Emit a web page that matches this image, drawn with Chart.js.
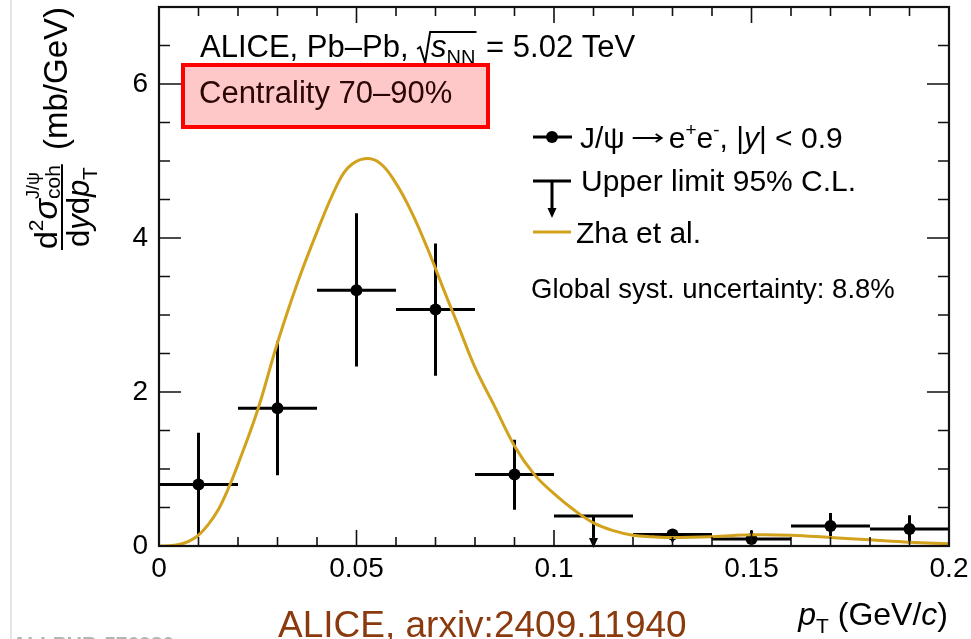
<!DOCTYPE html>
<html>
<head>
<meta charset="utf-8">
<script src="https://cdn.jsdelivr.net/npm/chart.js@4.4.1/dist/chart.umd.min.js"></script>
<style>
 html,body{margin:0;padding:0;background:#fff;}
 canvas{display:block;}
</style>
</head>
<body>
<canvas id="chart" width="971" height="639"></canvas>
<script>
// coherent J/psi pT spectrum, Pb-Pb 70-90%

const FONT = "'Liberation Sans', Arial, sans-serif";
const GOLD = '#d2a21c';

// measured bins (centres), errors down / up
const ptX   = [0.01, 0.03, 0.05, 0.07, 0.09, 0.13, 0.15, 0.17, 0.19];
const ptY   = [0.80, 1.79, 3.32, 3.07, 0.93, 0.15, 0.09, 0.26, 0.22];
const errLo = [0.66, 0.87, 0.99, 0.86, 0.46, 0.09, 0.05, 0.15, 0.16];
const errHi = [0.67, 0.87, 1.00, 0.86, 0.45, 0.07, 0.11, 0.17, 0.18];
const binHalf = 0.01;

// upper limit bin
const ulX = [0.11];
const ulY = [0.39];

// Zha et al.
const modelX = [0, 0.0025, 0.005, 0.0075, 0.01, 0.0125, 0.015, 0.0175, 0.02, 0.025, 0.03,
  0.035, 0.04, 0.045, 0.048, 0.052, 0.056, 0.06, 0.064, 0.068, 0.072, 0.076, 0.08, 0.085,
  0.09, 0.095, 0.1, 0.105, 0.11, 0.115, 0.12, 0.125, 0.13, 0.14, 0.15, 0.16, 0.17, 0.18,
  0.19, 0.2];
const modelY = [0, 0.003, 0.02, 0.06, 0.14, 0.28, 0.47, 0.74, 1.06, 1.77, 2.64,
  3.41, 4.08, 4.68, 4.92, 5.03, 4.97, 4.71, 4.33, 3.86, 3.34, 2.83, 2.32, 1.81,
  1.30, 0.93, 0.68, 0.47, 0.30, 0.20, 0.14, 0.12, 0.11, 0.12, 0.145, 0.14, 0.11, 0.08,
  0.05, 0.03];

const xTickVals = [0, 0.05, 0.1, 0.15, 0.2];
const xTickLabels = ['0', '0.05', '0.1', '0.15', '0.2'];
const yTickVals = [0, 2, 4, 6];
const yTickLabels = ['0', '2', '4', '6'];

function setFont(ctx, p){ ctx.font = (p[2] || '') + ' ' + p[1] + 'px ' + FONT; }
function runsWidth(ctx, parts){
  let w = 0;
  parts.forEach(p => { setFont(ctx, p); w += ctx.measureText(p[0]).width; });
  return w;
}
// parts: [text, size, style, dy]
function drawRuns(ctx, x, y, parts){
  let cx = x;
  parts.forEach(p => {
    setFont(ctx, p);
    ctx.fillText(p[0], cx, y + (p[3] || 0));
    cx += ctx.measureText(p[0]).width;
  });
  return cx;
}

// frame with inward ticks on all four sides
const frame = {
  id: 'frame',
  afterDatasetsDraw(c){
    const ctx = c.ctx, a = c.chartArea, xs = c.scales.x, ys = c.scales.y;
    ctx.save();
    ctx.strokeStyle = '#111';
    ctx.lineWidth = 1.6;
    ctx.beginPath();
    for (let i = 0; i <= 20; i++){
      const px = xs.getPixelForValue(i * 0.01), L = i % 5 === 0 ? 16 : 9;
      ctx.moveTo(px, a.bottom); ctx.lineTo(px, a.bottom - L);
      ctx.moveTo(px, a.top); ctx.lineTo(px, a.top + L);
    }
    for (let i = 0; i <= 14; i++){
      const py = ys.getPixelForValue(i * 0.5), L = i % 4 === 0 ? 22 : 11;
      ctx.moveTo(a.left, py); ctx.lineTo(a.left + L, py);
      ctx.moveTo(a.right, py); ctx.lineTo(a.right - L, py);
    }
    ctx.stroke();
    ctx.lineWidth = 2.2;
    ctx.strokeRect(a.left, a.top, a.right - a.left, a.bottom - a.top);
    ctx.restore();
  }
};

function arrowDown(ctx, x, tipY){
  ctx.beginPath();
  ctx.moveTo(x, tipY);
  ctx.lineTo(x - 4.5, tipY - 10);
  ctx.lineTo(x + 4.5, tipY - 10);
  ctx.closePath();
  ctx.fill();
}

// x/y error bars and the upper-limit marker
const errBars = {
  id: 'errBars',
  beforeDatasetsDraw(c){
    const ctx = c.ctx, xs = c.scales.x, ys = c.scales.y;
    ctx.save();
    ctx.strokeStyle = '#000';
    ctx.fillStyle = '#000';
    ctx.lineWidth = 3;
    ctx.beginPath();
    ptX.forEach((x, i) => {
      const py = ys.getPixelForValue(ptY[i]), px = xs.getPixelForValue(x);
      ctx.moveTo(xs.getPixelForValue(x - binHalf), py);
      ctx.lineTo(xs.getPixelForValue(x + binHalf), py);
      ctx.moveTo(px, ys.getPixelForValue(ptY[i] - errLo[i]));
      ctx.lineTo(px, ys.getPixelForValue(ptY[i] + errHi[i]));
    });
    ulX.forEach((x, i) => {
      const py = ys.getPixelForValue(ulY[i]), px = xs.getPixelForValue(x);
      ctx.moveTo(xs.getPixelForValue(x - binHalf), py);
      ctx.lineTo(xs.getPixelForValue(x + binHalf), py);
      ctx.moveTo(px, py);
      ctx.lineTo(px, ys.getPixelForValue(0) - 6);
    });
    ctx.stroke();
    ulX.forEach(x => arrowDown(ctx, xs.getPixelForValue(x), ys.getPixelForValue(0) + 2));
    ctx.restore();
  }
};

// labels, legend and axis titles
const texts = {
  id: 'texts',
  afterDraw(c){
    const ctx = c.ctx;
    ctx.save();
    ctx.textBaseline = 'alphabetic';
    ctx.textAlign = 'left';

    // page edge line
    ctx.strokeStyle = '#dcdcdc';
    ctx.lineWidth = 1.5;
    ctx.beginPath(); ctx.moveTo(11, 0); ctx.lineTo(11, 639); ctx.stroke();

    // collision system
    ctx.fillStyle = '#000';
    let x = drawRuns(ctx, 200, 57, [['ALICE, Pb\u2013Pb, ', 31]]);
    ctx.strokeStyle = '#000';
    ctx.lineWidth = 2;
    const rootStart = x;
    x = drawRuns(ctx, x + 14, 57, [['s', 31, 'italic'], ['NN', 20, '', 7]]);
    ctx.beginPath();
    ctx.moveTo(rootStart, 49); ctx.lineTo(rootStart + 3, 47);
    ctx.lineTo(rootStart + 8, 63); ctx.lineTo(rootStart + 13, 32);
    ctx.lineTo(x + 1, 32);
    ctx.stroke();
    drawRuns(ctx, x + 2, 57, [[' = 5.02 TeV', 31]]);

    // centrality box
    ctx.fillStyle = '#ffc8c8';
    ctx.fillRect(183, 65, 305, 62);
    ctx.strokeStyle = '#ff0000';
    ctx.lineWidth = 4;
    ctx.strokeRect(183, 65, 305, 62);
    ctx.fillStyle = '#2a0606';
    drawRuns(ctx, 199, 103, [['Centrality 70\u201390%', 31]]);

    // legend
    ctx.fillStyle = '#000';
    ctx.strokeStyle = '#000';
    ctx.lineWidth = 3;
    ctx.beginPath();
    ctx.moveTo(533, 137); ctx.lineTo(572, 137);
    ctx.moveTo(533, 181); ctx.lineTo(571, 181);
    ctx.moveTo(552, 181); ctx.lineTo(552, 210);
    ctx.stroke();
    ctx.beginPath(); ctx.arc(552, 137, 6, 0, Math.PI * 2); ctx.fill();
    arrowDown(ctx, 552, 218);
    ctx.strokeStyle = GOLD;
    ctx.beginPath(); ctx.moveTo(533, 232); ctx.lineTo(571, 232); ctx.stroke();

    ctx.fillStyle = '#000';
    const jx = drawRuns(ctx, 580, 148, [['J/\u03c8', 30]]);
    // reaction arrow
    ctx.strokeStyle = '#000';
    ctx.lineWidth = 1.8;
    ctx.beginPath();
    ctx.moveTo(jx + 8, 138); ctx.lineTo(jx + 37, 138);
    ctx.moveTo(jx + 31, 134); ctx.lineTo(jx + 37, 138); ctx.lineTo(jx + 31, 142);
    ctx.stroke();
    drawRuns(ctx, jx + 44, 148, [['e', 30], ['+', 19, '', -12], ['e', 30], ['-', 19, '', -12],
      [', |', 30], ['y', 30, 'italic'], ['| < 0.9', 30]]);
    drawRuns(ctx, 581, 191, [['Upper limit 95% C.L.', 30]]);
    drawRuns(ctx, 576, 243, [['Zha et al.', 30]]);
    drawRuns(ctx, 531, 298, [['Global syst. uncertainty: 8.8%', 27.5]]);

    // x title
    const xt = [['p', 32, 'italic'], ['T', 21, '', 8], [' (GeV/', 32], ['c', 32, 'italic'], [')', 32]];
    drawRuns(ctx, 948 - runsWidth(ctx, xt), 625, xt);

    // y title, rotated fraction
    ctx.translate(62, 546);
    ctx.rotate(-Math.PI / 2);
    const numA = [['d', 32], ['2', 21, '', -14], ['\u03c3', 34, 'italic']];
    const sup = [['J/\u03c8', 18, '', -18]];
    const sub = [['coh', 21, '', 3]];
    const numW = runsWidth(ctx, numA) + Math.max(runsWidth(ctx, sup), runsWidth(ctx, sub));
    const den = [['d', 31], ['y', 31, 'italic'], ['d', 31], ['p', 31, 'italic'], ['T', 21, '', 8]];
    const denW = runsWidth(ctx, den);
    const u0 = 296, barW = Math.max(numW, denW) + 2;
    ctx.strokeStyle = '#000';
    ctx.lineWidth = 2;
    ctx.beginPath(); ctx.moveTo(u0, 0); ctx.lineTo(u0 + barW, 0); ctx.stroke();
    const nx = drawRuns(ctx, u0 + (barW - numW) / 2, -5, numA);
    drawRuns(ctx, nx, -5, sup);
    drawRuns(ctx, nx, -5, sub);
    drawRuns(ctx, u0 + (barW - denW) / 2, 27, den);
    const unit = [['(mb/GeV)', 33]];
    drawRuns(ctx, 539 - runsWidth(ctx, unit), 5, unit);
    ctx.restore();

    // footer labels
    ctx.save();
    ctx.fillStyle = '#8b3a0e';
    drawRuns(ctx, 278, 637, [['ALICE, arxiv:2409.11940', 37]]);
    ctx.fillStyle = '#b4b4b4';
    drawRuns(ctx, 12, 651, [['ALI-PUB-576980', 21, 'bold']]);
    ctx.restore();
  }
};

new Chart(document.getElementById('chart'), {
  type: 'scatter',
  data: {
    datasets: [
      { label: 'Zha et al.', data: modelX.map((x, i) => ({ x: x, y: modelY[i] })),
        showLine: true, borderColor: GOLD, borderWidth: 3, pointRadius: 0,
        tension: 0.4, order: 0 },
      { label: 'J/psi', data: ptX.map((x, i) => ({ x: x, y: ptY[i] })),
        pointRadius: 6, backgroundColor: '#000', borderColor: '#000', borderWidth: 0, order: 1 },
      { label: 'upper limit', data: ulX.map((x, i) => ({ x: x, y: ulY[i] })),
        pointRadius: 0, order: 2 }
    ]
  },
  options: {
    responsive: false,
    animation: false,
    devicePixelRatio: 1,
    events: [],
    layout: { padding: { left: 99, right: 22, top: 7, bottom: 43 } },
    plugins: { legend: { display: false }, tooltip: { enabled: false } },
    scales: {
      x: {
        type: 'linear', min: 0, max: 0.2,
        grid: { display: false, drawTicks: false },
        border: { display: false },
        afterBuildTicks: s => { s.ticks = xTickVals.map(v => ({ value: v })); },
        afterFit: s => { s.height = 50; s.paddingLeft = 0; s.paddingRight = 0; },
        ticks: { callback: (v, i) => xTickLabels[i], font: { size: 28, family: FONT },
          color: '#000', padding: 6, maxRotation: 0, autoSkip: false }
      },
      y: {
        type: 'linear', min: 0, max: 7,
        grid: { display: false, drawTicks: false },
        border: { display: false },
        afterBuildTicks: s => { s.ticks = yTickVals.map(v => ({ value: v })); },
        afterFit: s => { s.width = 60; s.paddingTop = 0; s.paddingBottom = 0; },
        ticks: { callback: (v, i) => yTickLabels[i], font: { size: 28, family: FONT },
          color: '#000', padding: 11, autoSkip: false }
      }
    }
  },
  plugins: [errBars, frame, texts]
});
</script>
</body>
</html>
